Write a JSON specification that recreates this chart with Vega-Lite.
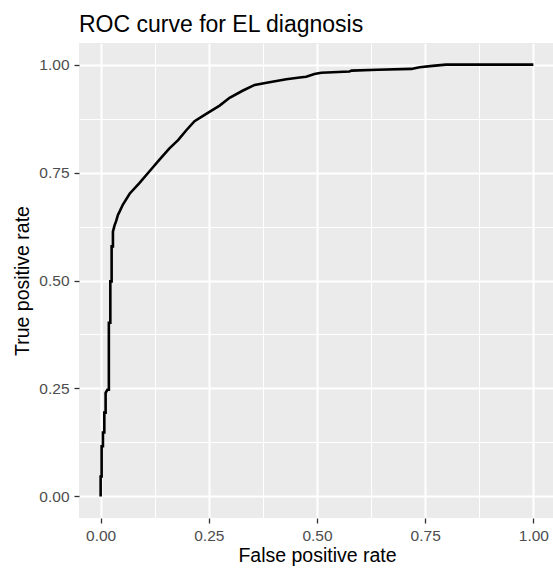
{
  "$schema": "https://vega.github.io/schema/vega-lite/v6.json",
  "width": 476,
  "height": 475,
  "autosize": {"type": "none"},
  "padding": {"left": 79, "top": 43, "right": 0, "bottom": 52},
  "background": "white",
  "title": {"text": "ROC curve for EL diagnosis", "anchor": "start", "frame": "group", "fontSize": 23, "font": "Liberation Sans", "fontWeight": "normal", "color": "black", "offset": 6},
  "config": {
    "view": {"fill": "#EBEBEB", "stroke": null},
    "axis": {
      "domain": false,
      "labelFont": "Liberation Sans",
      "labelFontSize": 15.5,
      "labelColor": "#4D4D4D",
      "tickColor": "#333333",
      "tickSize": 5,
      "tickWidth": 1.3,
      "labelPadding": 5,
      "titleFont": "Liberation Sans",
      "titleFontSize": 19.5,
      "titleFontWeight": "normal",
      "titleColor": "black",
      "gridColor": "white",
      "grid": true
    }
  },
  "data": {"values": [
    {"i": 0, "fpr": 0, "tpr": 0},
    {"i": 1, "fpr": 0, "tpr": 0.046},
    {"i": 2, "fpr": 0.0023, "tpr": 0.046},
    {"i": 3, "fpr": 0.0023, "tpr": 0.116},
    {"i": 4, "fpr": 0.0053, "tpr": 0.116},
    {"i": 5, "fpr": 0.0053, "tpr": 0.148},
    {"i": 6, "fpr": 0.0085, "tpr": 0.148},
    {"i": 7, "fpr": 0.0085, "tpr": 0.194},
    {"i": 8, "fpr": 0.0115, "tpr": 0.194},
    {"i": 9, "fpr": 0.0115, "tpr": 0.240},
    {"i": 10, "fpr": 0.0155, "tpr": 0.247},
    {"i": 11, "fpr": 0.019, "tpr": 0.247},
    {"i": 12, "fpr": 0.019, "tpr": 0.402},
    {"i": 13, "fpr": 0.0224, "tpr": 0.402},
    {"i": 14, "fpr": 0.0224, "tpr": 0.498},
    {"i": 15, "fpr": 0.0254, "tpr": 0.498},
    {"i": 16, "fpr": 0.0254, "tpr": 0.579},
    {"i": 17, "fpr": 0.0284, "tpr": 0.579},
    {"i": 18, "fpr": 0.0284, "tpr": 0.613},
    {"i": 19, "fpr": 0.032, "tpr": 0.627},
    {"i": 20, "fpr": 0.036, "tpr": 0.638},
    {"i": 21, "fpr": 0.040, "tpr": 0.652},
    {"i": 22, "fpr": 0.044, "tpr": 0.660},
    {"i": 23, "fpr": 0.0515, "tpr": 0.676},
    {"i": 24, "fpr": 0.067, "tpr": 0.701},
    {"i": 25, "fpr": 0.09, "tpr": 0.726},
    {"i": 26, "fpr": 0.113, "tpr": 0.753},
    {"i": 27, "fpr": 0.136, "tpr": 0.780},
    {"i": 28, "fpr": 0.159, "tpr": 0.806},
    {"i": 29, "fpr": 0.179, "tpr": 0.825},
    {"i": 30, "fpr": 0.198, "tpr": 0.848},
    {"i": 31, "fpr": 0.217, "tpr": 0.869},
    {"i": 32, "fpr": 0.244, "tpr": 0.886},
    {"i": 33, "fpr": 0.275, "tpr": 0.905},
    {"i": 34, "fpr": 0.298, "tpr": 0.923},
    {"i": 35, "fpr": 0.329, "tpr": 0.940},
    {"i": 36, "fpr": 0.356, "tpr": 0.953},
    {"i": 37, "fpr": 0.39, "tpr": 0.959},
    {"i": 38, "fpr": 0.429, "tpr": 0.966},
    {"i": 39, "fpr": 0.46, "tpr": 0.970},
    {"i": 40, "fpr": 0.475, "tpr": 0.972},
    {"i": 41, "fpr": 0.494, "tpr": 0.978},
    {"i": 42, "fpr": 0.51, "tpr": 0.981},
    {"i": 43, "fpr": 0.575, "tpr": 0.984},
    {"i": 44, "fpr": 0.58, "tpr": 0.986},
    {"i": 45, "fpr": 0.64, "tpr": 0.988},
    {"i": 46, "fpr": 0.718, "tpr": 0.990},
    {"i": 47, "fpr": 0.737, "tpr": 0.994},
    {"i": 48, "fpr": 0.767, "tpr": 0.997},
    {"i": 49, "fpr": 0.798, "tpr": 1.0},
    {"i": 50, "fpr": 1.0, "tpr": 1.0}
  ]},
  "mark": {"type": "line", "color": "black", "strokeWidth": 2.6, "strokeJoin": "miter", "clip": true},
  "encoding": {
    "x": {
      "field": "fpr", "type": "quantitative",
      "scale": {"domain": [-0.05, 1.05], "nice": false, "zero": false},
      "axis": {
        "title": "False positive rate",
        "titlePadding": 3,
        "values": [0, 0.125, 0.25, 0.375, 0.5, 0.625, 0.75, 0.875, 1],
        "labelExpr": "datum.value % 0.25 === 0 ? format(datum.value, '.2f') : ''",
        "tickOpacity": {"condition": {"test": "datum.value % 0.25 !== 0", "value": 0}, "value": 1},
        "gridWidth": {"condition": {"test": "datum.value % 0.25 !== 0", "value": 1}, "value": 2}
      }
    },
    "y": {
      "field": "tpr", "type": "quantitative",
      "scale": {"domain": [-0.05, 1.05], "nice": false, "zero": false},
      "axis": {
        "title": "True positive rate",
        "titlePadding": 6,
        "values": [0, 0.125, 0.25, 0.375, 0.5, 0.625, 0.75, 0.875, 1],
        "labelExpr": "datum.value % 0.25 === 0 ? format(datum.value, '.2f') : ''",
        "tickOpacity": {"condition": {"test": "datum.value % 0.25 !== 0", "value": 0}, "value": 1},
        "gridWidth": {"condition": {"test": "datum.value % 0.25 !== 0", "value": 1}, "value": 2}
      }
    },
    "order": {"field": "i", "type": "quantitative"}
  }
}
